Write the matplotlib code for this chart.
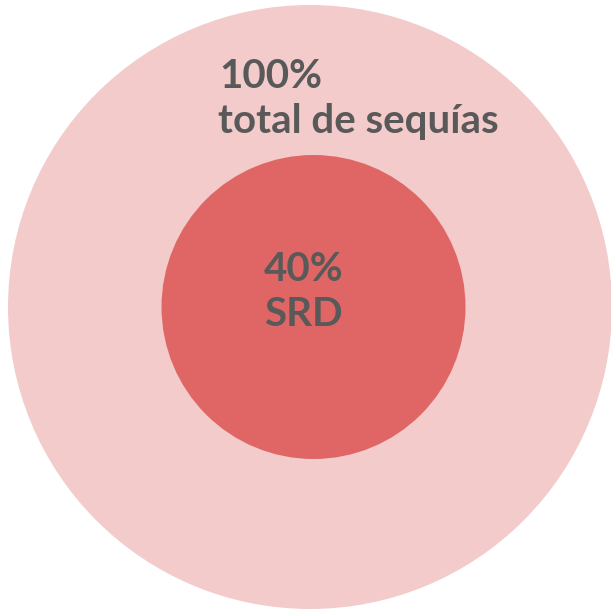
import matplotlib
matplotlib.use("Agg")
import matplotlib.pyplot as plt
from matplotlib.patches import Circle

# Data
labels = ["total de sequías", "SRD"]
percents = [100, 40]

# Layout / style
W, H = 611, 612
outer_center = (310, 307)
outer_r = 302
inner_center = (313.5, 307)
inner_r = 152
colors = ["#f3cbcb", "#e06666"]
text_color = "#595959"

fig = plt.figure(figsize=(W / 100, H / 100), dpi=100)
ax = fig.add_axes([0, 0, 1, 1])
ax.set_xlim(0, W)
ax.set_ylim(H, 0)
ax.set_aspect("equal")
ax.axis("off")

ax.add_patch(Circle(outer_center, outer_r, color=colors[0], lw=0))
ax.add_patch(Circle(inner_center, inner_r, color=colors[1], lw=0))

font = dict(family=["Lato", "DejaVu Sans"], weight="bold", color=text_color,
            va="baseline", ha="left", fontsize=29)
ax.text(219, 88.5, f"{percents[0]}%", **font)
ax.text(218, 133.5, labels[0], **font)
ax.text(264, 281, f"{percents[1]}%", **font)
ax.text(264.5, 325.5, labels[1], **font)

fig.savefig("out.png", dpi=100)
